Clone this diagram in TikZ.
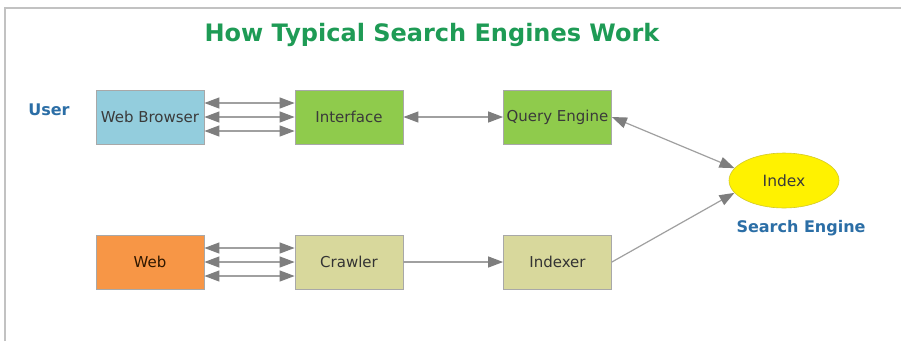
\documentclass[tikz,border=0pt]{standalone}
\usepackage{fontspec}
\setmainfont{DejaVu Sans}
\usetikzlibrary{arrows.meta,shapes.geometric}
\definecolor{titlegreen}{HTML}{1E9B55}
\definecolor{lblblue}{HTML}{2B6EA6}
\definecolor{bluebox}{HTML}{93CDDD}
\definecolor{greenbox}{HTML}{8FCB4C}
\definecolor{orangebox}{HTML}{F79646}
\definecolor{khakibox}{HTML}{D8D89C}
\definecolor{boxline}{HTML}{A8A8A8}
\definecolor{conn}{HTML}{A0A0A0}
\definecolor{tipc}{HTML}{7E7E7E}
\definecolor{txt}{HTML}{3A3A3A}
\tikzset{
  box/.style={draw=boxline, line width=0.8pt, minimum width=108pt, minimum height=54pt, inner sep=0pt, font=\fontsize{15}{18}\selectfont, text=txt},
  lbl/.style={font=\bfseries\fontsize{16}{19}\selectfont, text=lblblue},
  conline/.style={draw=conn, line width=1.2pt},
  tip/.style={-{Triangle[length=15pt,width=11pt,fill=tipc,color=tipc]}},
  dtip/.style={{Triangle[length=15pt,width=11pt,fill=tipc,color=tipc]}-{Triangle[length=15pt,width=11pt,fill=tipc,color=tipc]}}
}
\begin{document}
\begin{tikzpicture}[x=1pt,y=-1pt]
\useasboundingbox (0,0) rectangle (901,341);
\fill[white] (0,0) rectangle (901,341);
% frame
\draw[draw=boxline!70, line width=1.2pt] (5,341) -- (5,8) -- (901,8);
% title
\node[font=\bfseries\fontsize{24}{28}\selectfont, text=titlegreen] (title) at (432,35) {How Typical Search Engines Work};
% labels
\node[lbl] (user) at (49,110) {User};
\node[lbl] (se) at (801,228) {Search Engine};
% boxes
\node[box, fill=bluebox] (wb) at (150,117) {Web Browser};
\node[box, fill=greenbox] (iface) at (349,117) {Interface};
\node[box, fill=greenbox] (qe) at (557.5,117) {Query Engine};
\node[box, fill=orangebox, text=black!70!orange!60!black] (web) at (150,262) {Web};
\node[box, fill=khakibox, text=black!80] (cr) at (349,262) {Crawler};
\node[box, fill=khakibox, text=black!80] (ixr) at (557.5,262) {Indexer};
\node[ellipse, draw=yellow!80!black, fill=yellow, line width=0.6pt, minimum width=110pt, minimum height=55pt, inner sep=0pt, font=\fontsize{15.5}{18}\selectfont, text=txt] (idx) at (784,180.5) {Index};
% connectors
\foreach \dy in {-14,0,14}{
  \draw[conline, dtip] ([yshift=-\dy pt]wb.east) -- ([yshift=-\dy pt]iface.west);
  \draw[conline, dtip] ([yshift=-\dy pt]web.east) -- ([yshift=-\dy pt]cr.west);
}
\draw[conline, dtip] (iface.east) -- (qe.west);
\draw[conline, dtip] (qe.east) -- (idx.166);
\draw[conline, tip] (cr.east) -- (ixr.west);
\draw[conline, tip] (ixr.east) -- (idx.194);
\end{tikzpicture}
\end{document}
